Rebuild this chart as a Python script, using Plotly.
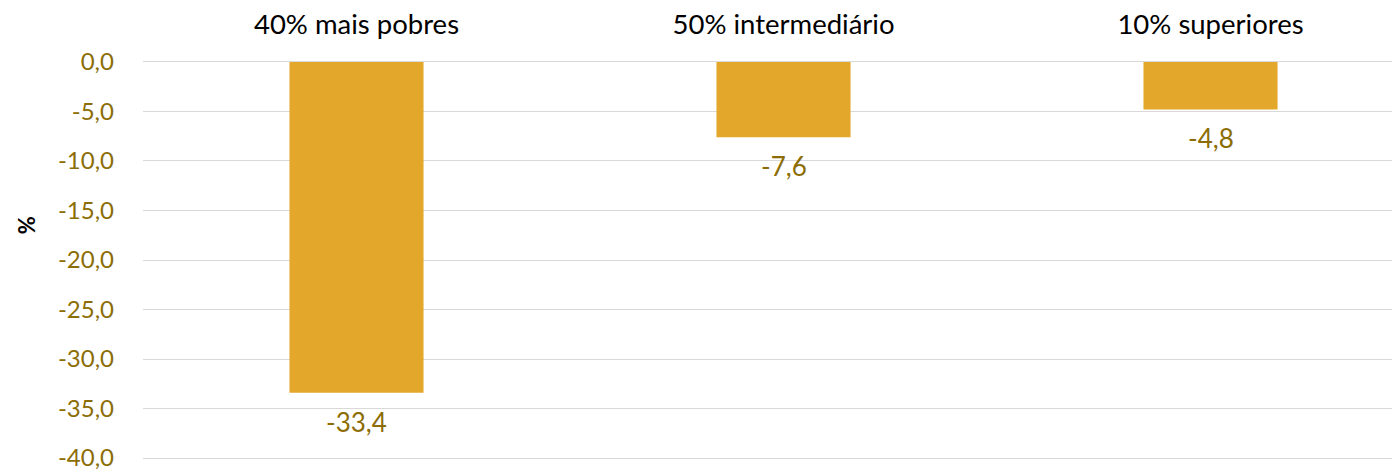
import plotly.graph_objects as go

# -----------------------------------------------------------
# Data
# -----------------------------------------------------------
groups = ["40% mais pobres", "50% intermediário", "10% superiores"]
change = [-33.4, -7.6, -4.8]
change_labels = ["-33,4", "-7,6", "-4,8"]

y_ticks = [0, -5, -10, -15, -20, -25, -30, -35, -40]
y_tick_labels = ["0,0", "-5,0", "-10,0", "-15,0", "-20,0", "-25,0", "-30,0", "-35,0", "-40,0"]

bar_color = "#E3A82B"
gold_text = "#8C6D05"
font_family = "Lato, 'Open Sans', sans-serif"

# -----------------------------------------------------------
# Figure
# -----------------------------------------------------------
fig = go.Figure()

x_pos = list(range(len(groups)))

fig.add_trace(go.Bar(
    x=x_pos,
    y=change,
    width=0.314,
    marker=dict(color=bar_color, line=dict(width=0)),
    hoverinfo="skip",
))

# value labels under each bar end
for xi, v, lab in zip(x_pos, change, change_labels):
    fig.add_annotation(
        x=xi, y=v, xref="x", yref="y",
        text=lab, showarrow=False,
        yanchor="middle", yshift=-29,
        font=dict(color=gold_text, size=26, family=font_family),
    )

fig.update_xaxes(
    side="top",
    tickvals=x_pos,
    ticktext=groups,
    range=[-0.5, 2.4625],
    showgrid=False,
    zeroline=False,
    showline=False,
    ticks="",
    automargin=False,
    ticklabelstandoff=18,
    tickfont=dict(size=27.5, color="#000000", family=font_family),
)

fig.update_yaxes(
    range=[-40.4, 0.4],
    tickvals=y_ticks,
    ticktext=y_tick_labels,
    showgrid=True,
    gridcolor="#D9D9D9",
    gridwidth=1.3,
    zeroline=False,
    showline=False,
    ticks="",
    automargin=False,
    ticklabelstandoff=28,
    tickfont=dict(size=24, color=gold_text, family=font_family),
)

fig.add_annotation(
    text="<b>%</b>",
    xref="paper", yref="paper",
    x=-0.092, y=0.585,
    xanchor="center", yanchor="middle",
    textangle=-90,
    showarrow=False,
    font=dict(size=22, color="#000000", family=font_family),
)

fig.update_layout(
    width=1400,
    height=472,
    margin=dict(l=135, r=0, t=50, b=18),
    plot_bgcolor="white",
    paper_bgcolor="white",
    showlegend=False,
    font=dict(family=font_family),
)

fig.write_html("out.html")
